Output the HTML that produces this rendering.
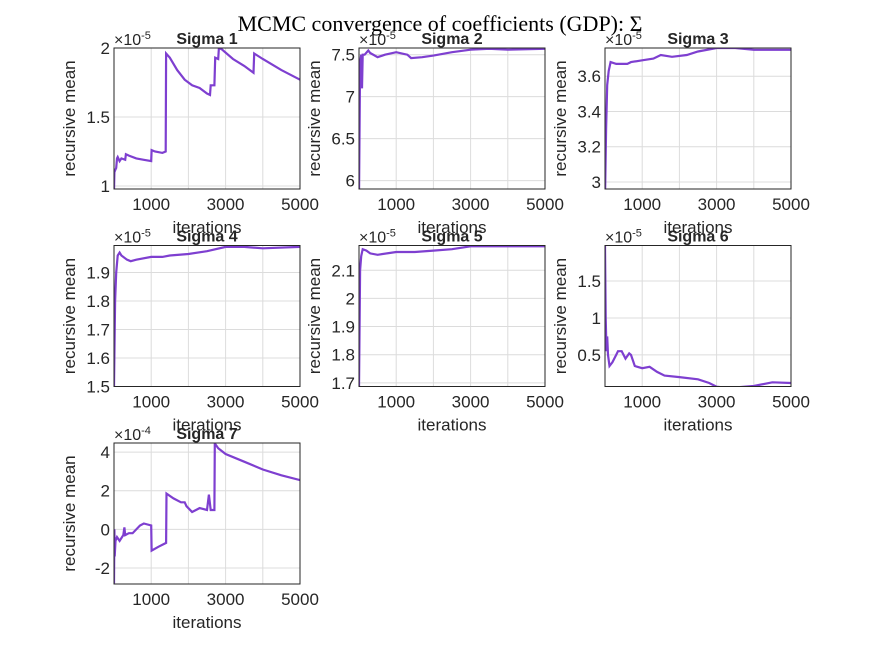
<!DOCTYPE html>
<html><head><meta charset="utf-8"><style>
body{margin:0;background:#fff}
svg{display:block}
text{font-family:"Liberation Sans",sans-serif;fill:#262626}
</style></head><body>
<svg id="fig" width="875" height="656">
<rect width="875" height="656" fill="#fff"/>
<text x="440" y="31" text-anchor="middle" style="font-family:'Liberation Serif',serif;font-size:22px;fill:#000">MCMC convergence of coefficients (GDP): Σ</text>
</svg>
<script>
const titles=["Sigma 1","Sigma 2","Sigma 3","Sigma 4","Sigma 5","Sigma 6","Sigma 7"];
const exps=["-5","-5","-5","-5","-5","-5","-4"];
const ylims=[[0.978,2.0],[5.9,7.58],[2.96,3.76],[1.5,1.995],[1.687,2.188],[0.073,1.98],[-2.83,4.47]];
const yticks=[[1,1.5,2],[6,6.5,7,7.5],[3,3.2,3.4,3.6],[1.5,1.6,1.7,1.8,1.9],[1.7,1.8,1.9,2,2.1],[0.5,1,1.5],[-2,0,2,4]];
const ytickLabels=[["1","1.5","2"],["6","6.5","7","7.5"],["3","3.2","3.4","3.6"],["1.5","1.6","1.7","1.8","1.9"],["1.7","1.8","1.9","2","2.1"],["0.5","1","1.5"],["-2","0","2","4"]];
const xticks=[1000,2000,3000,4000,5000];
const xtickLabels=["1000","","3000","","5000"];
const iters1=[1,10,40,60,80,100,150,200,300,320,400,600,800,1000,1010,1100,1300,1390,1400,1500,1700,1900,2100,2300,2500,2580,2600,2700,2720,2800,2820,2900,3200,3500,3750,3770,4000,4500,5000];
const vals1=[0.97,1.1,1.12,1.13,1.2,1.21,1.18,1.2,1.19,1.23,1.22,1.2,1.19,1.18,1.26,1.25,1.24,1.25,1.96,1.93,1.84,1.77,1.73,1.71,1.67,1.66,1.73,1.73,1.93,1.92,2.0,1.99,1.92,1.87,1.82,1.96,1.92,1.84,1.77];
const iters2=[1,30,60,80,100,150,250,300,500,700,1000,1300,1400,1700,2000,2500,3000,3500,4000,5000];
const vals2=[5.8,7.4,7.5,7.1,7.5,7.5,7.55,7.52,7.47,7.5,7.53,7.5,7.46,7.47,7.49,7.53,7.56,7.57,7.56,7.57];
const iters3=[1,30,60,100,150,300,600,700,1000,1300,1500,1800,2200,2500,3000,3500,4000,5000];
const vals3=[2.9,3.3,3.55,3.63,3.68,3.67,3.67,3.68,3.69,3.7,3.72,3.71,3.72,3.74,3.76,3.76,3.75,3.75];
const iters4=[1,30,60,100,150,200,350,450,600,1000,1300,1500,2000,2500,3000,3500,4000,5000];
const vals4=[1.5,1.8,1.9,1.96,1.97,1.96,1.945,1.94,1.945,1.955,1.955,1.96,1.965,1.975,1.99,1.99,1.985,1.99];
const iters5=[1,30,60,100,200,300,500,1000,1500,2000,2500,3000,3500,5000];
const vals5=[1.68,2.1,2.15,2.175,2.17,2.16,2.155,2.165,2.165,2.17,2.175,2.185,2.185,2.185];
const iters6=[1,20,40,60,80,120,200,300,350,450,550,650,700,800,1000,1200,1400,1600,2000,2500,2800,3000,3200,3500,4000,4500,5000];
const vals6=[1.98,1.0,0.55,0.75,0.5,0.35,0.4,0.5,0.55,0.55,0.45,0.52,0.5,0.35,0.32,0.34,0.27,0.22,0.2,0.17,0.12,0.07,0.06,0.06,0.08,0.13,0.12];
const iters7=[1,10,20,40,80,150,250,280,300,400,500,700,800,1000,1010,1200,1400,1410,1600,1800,1900,1950,2100,2300,2500,2550,2600,2700,2710,2800,3000,3500,4000,4500,5000];
const vals7=[-2.8,0.0,-1.4,-0.6,-0.4,-0.6,-0.3,0.1,-0.3,-0.2,-0.2,0.2,0.3,0.2,-1.1,-0.9,-0.7,1.85,1.6,1.4,1.4,1.2,0.9,1.1,1.0,1.8,1.0,1.0,4.45,4.2,3.9,3.5,3.1,2.8,2.55];
const allIters=[iters1,iters2,iters3,iters4,iters5,iters6,iters7];
const allVals=[vals1,vals2,vals3,vals4,vals5,vals6,vals7];
const NS="http://www.w3.org/2000/svg";
const svg=document.getElementById('fig');
function mk(tag,attrs,parent){const e=document.createElementNS(NS,tag);for(const k in attrs)e.setAttribute(k,attrs[k]);(parent||svg).appendChild(e);return e;}
const colX=[114,359,605],rowY=[48,245.5,443],W=186,H=141;
for(let i=0;i<7;i++){
  const L=colX[i%3],T=rowY[Math.floor(i/3)];
  const g=mk('g',{});
  
  
  const [y0,y1]=ylims[i];
  const sx=v=>L+v/5000*W;
  const sy=v=>T+H-(v-y0)/(y1-y0)*H;
  mk('rect',{x:L,y:T,width:W,height:H,fill:'#fff'},g);
  xticks.forEach((t,j)=>{
    const x=sx(t);
    mk('line',{x1:x,y1:T,x2:x,y2:T+H,stroke:'#dcdcdc','stroke-width':1},g);
    if(xtickLabels[j]){const tx=mk('text',{x:x,y:T+H+21,'text-anchor':'middle','font-size':17},g);tx.textContent=xtickLabels[j];
      
      }
  });
  yticks[i].forEach((t,j)=>{
    const y=sy(t);
    mk('line',{x1:L,y1:y,x2:L+W,y2:y,stroke:'#dcdcdc','stroke-width':1},g);
    const ty=mk('text',{x:L-4,y:y+6,'text-anchor':'end','font-size':17},g);ty.textContent=ytickLabels[i][j];
    
    
  });
  const cp='cp'+i;
  const cl=mk('clipPath',{id:cp},g);mk('rect',{x:L,y:T,width:W,height:H},cl);
  const pts=allIters[i].map((it,k)=>sx(it).toFixed(1)+','+sy(allVals[i][k]).toFixed(1)).join(' ');
  const pl=mk('polyline',{points:pts,fill:'none',stroke:'#7e3fd0','stroke-width':2.2,'clip-path':'url(#'+cp+')'},g);
  
  
  mk('rect',{x:L,y:T,width:W,height:H,fill:'none',stroke:'#262626','stroke-width':1},g);
  const ti=mk('text',{x:L+W/2,y:T-4,'text-anchor':'middle','font-size':16,'font-weight':'bold',fill:'#000'},g);ti.textContent=titles[i];
  
  
  const ex=mk('text',{x:L,y:T-3,'font-size':16,fill:'#404040'},g);ex.innerHTML='×10<tspan font-size="11" dy="-6">'+exps[i]+'</tspan>';
  
  
  const yl=mk('text',{x:0,y:0,'text-anchor':'middle','font-size':17,transform:'translate('+(L-39)+','+(T+H/2)+') rotate(-90)'},g);yl.textContent='recursive mean';
  
  
  const xl=mk('text',{x:L+W/2,y:T+H+44,'text-anchor':'middle','font-size':17},g);xl.textContent='iterations';
  
  
}
</script>
</body></html>
